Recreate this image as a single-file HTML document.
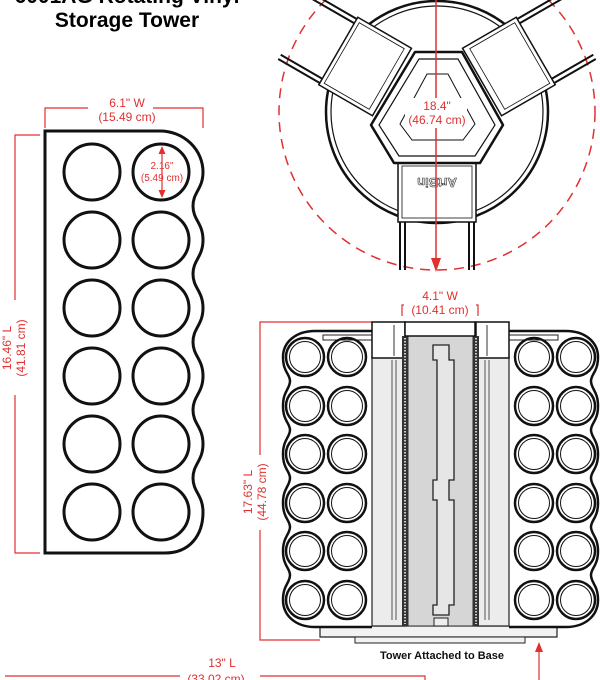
<!DOCTYPE html><html><head><meta charset="utf-8"><style>body{margin:0;background:#fff}svg{display:block}text{font-family:"Liberation Sans",sans-serif}</style></head><body>
<svg width="600" height="680" viewBox="0 0 600 680" xmlns="http://www.w3.org/2000/svg">
<defs>
<g id="lp" fill="none" stroke="#111" stroke-width="3.5">
</g>
</defs>
<!-- title -->
<text x="127" y="3" font-size="21" font-weight="bold" text-anchor="middle">6001AG Rotating Vinyl</text>
<text x="127" y="27" font-size="21" font-weight="bold" text-anchor="middle">Storage Tower</text>

<!-- left panel -->
<path d="M45,131 H160 A43,41 0 0 1 203,172 C203,189 193,192 193,206 C193,220 203,223 203,240 C203,257 193,260 193,274 C193,288 203,291 203,308 C203,325 193,328 193,342 C193,356 203,359 203,376 C203,393 193,396 193,410 C193,424 203,427 203,444 C203,461 193,464 193,478 C193,492 203,495 203,512 C203,535 190,553 165,553 H45 Z" fill="none" stroke="#111" stroke-width="3"/>
<g fill="none" stroke="#111" stroke-width="3">
<circle cx="92" cy="172" r="28"/><circle cx="161" cy="172" r="28"/>
<circle cx="92" cy="240" r="28"/><circle cx="161" cy="240" r="28"/>
<circle cx="92" cy="308" r="28"/><circle cx="161" cy="308" r="28"/>
<circle cx="92" cy="376" r="28"/><circle cx="161" cy="376" r="28"/>
<circle cx="92" cy="444" r="28"/><circle cx="161" cy="444" r="28"/>
<circle cx="92" cy="512" r="28"/><circle cx="161" cy="512" r="28"/>
</g>
<g stroke="#e03030" fill="none" stroke-width="1.2">
<path d="M45,128 V108 H88 M153,108 H203 V128"/>
<path d="M40,135 H15 V300 M15,395 V553 H40"/>
<path d="M162,148 V196"/>
<path d="M5,676 H180 M260,676 H425 V680"/>
<path d="M539,680 V650"/>
<path d="M372,322 H260 V455 M260,530 V640 H320"/>
<path d="M402,316 V305 H404 M476,305 H478 V316"/>
</g>
<g fill="#e03030">
<path d="M162,146 l-3.5,8 h7z M162,198 l-3.5,-8 h7z"/>
<path d="M539,642 l-4,10 h8z"/>
<path d="M436,272 l-5,-14 h10z"/>
</g>
<g fill="#e03030" font-size="12" text-anchor="middle">
<text x="127" y="107">6.1" W</text><text x="127" y="121">(15.49 cm)</text>
<text x="162" y="169" font-size="10">2.16"</text><text x="162" y="181" font-size="10">(5.49 cm)</text>
<text transform="translate(11,348) rotate(-90)">16.46" L</text>
<text transform="translate(25,348) rotate(-90)">(41.81 cm)</text>
<text x="222" y="667">13" L</text><text x="216" y="683">(33.02 cm)</text>
<text x="440" y="300">4.1" W</text><text x="440" y="314">(10.41 cm)</text>
<text transform="translate(252,492) rotate(-90)">17.63" L</text>
<text transform="translate(266,492) rotate(-90)">(44.78 cm)</text>
</g>

<!-- top view -->
<circle cx="437" cy="112" r="158" fill="none" stroke="#e03030" stroke-width="1.5" stroke-dasharray="10,7"/>
<circle cx="437" cy="112" r="111" fill="#fff" stroke="#111" stroke-width="2.5"/>
<circle cx="437" cy="112" r="106" fill="none" stroke="#111" stroke-width="1.2"/>
<g id="arm" fill="#fff" stroke="#111" stroke-width="1.5">
<path d="M400,220 V270 M405,220 V270 M469,220 V270 M474,220 V270" stroke-width="2"/>
<path d="M400,220 Q437,205 474,220" fill="none"/>
<rect x="398" y="160" width="78" height="62"/>
<rect x="402" y="166" width="70" height="52" fill="none" stroke-width="0.8"/>
</g>
<use href="#arm" transform="rotate(120 437 108)"/>
<use href="#arm" transform="rotate(240 437 108)"/>
<text x="437" y="186" font-size="13" font-weight="bold" fill="#eee" stroke="#333" stroke-width="0.6" text-anchor="middle" transform="rotate(180 437 182)">ArtBin</text>
<path d="M415,52 H462 L503,125 L480,163 H394 L371,125 Z" fill="#fff" stroke="#111" stroke-width="2.5" stroke-linejoin="round"/>
<path d="M419,59 H458 L495,125 L475,156 H399 L379,125 Z" fill="none" stroke="#111" stroke-width="1.2"/>
<path d="M427,74 H448 L475,124 L463,140 H412 L400,124 Z" fill="none" stroke="#111" stroke-width="1"/>
<path d="M436,0 V260" stroke="#e03030" stroke-width="1.5"/>
<rect x="405" y="98" width="62" height="30" fill="#fff"/>
<g fill="#e03030" font-size="12" text-anchor="middle"><text x="437" y="110">18.4"</text><text x="437" y="124">(46.74 cm)</text></g>

<!-- tower -->
<path d="M320,626 H557 V637 H320 Z" fill="#f2f2f2" stroke="#222" stroke-width="1.2"/>
<path d="M355,637 H525 V643 H355 Z" fill="#f2f2f2" stroke="#222" stroke-width="1"/>
<g id="tray">
<path d="M372,331 H315 C296,331 283,342 283,357 C283,372 290,374 290,381 C290,389 283,391 283,406 C283,421 290,423 290,430 C290,437 283,440 283,454 C283,469 290,471 290,478 C290,486 283,488 283,503 C283,518 290,520 290,527 C290,534 283,537 283,551 C283,566 290,568 290,575 C290,583 283,585 283,600 C283,615 295,627 315,627 H372" fill="#fff" stroke="#111" stroke-width="2.5"/>
<path d="M323,335 H372 V340 H323Z" fill="#fff" stroke="#222" stroke-width="1"/>
<g fill="none" stroke="#111">
<g stroke-width="2.5"><circle cx="305" cy="357" r="19"/><circle cx="347" cy="357" r="19"/><circle cx="305" cy="406" r="19"/><circle cx="347" cy="406" r="19"/><circle cx="305" cy="454" r="19"/><circle cx="347" cy="454" r="19"/><circle cx="305" cy="503" r="19"/><circle cx="347" cy="503" r="19"/><circle cx="305" cy="551" r="19"/><circle cx="347" cy="551" r="19"/><circle cx="305" cy="600" r="19"/><circle cx="347" cy="600" r="19"/></g>
<g stroke-width="1"><circle cx="305" cy="357" r="15.5"/><circle cx="347" cy="357" r="15.5"/><circle cx="305" cy="406" r="15.5"/><circle cx="347" cy="406" r="15.5"/><circle cx="305" cy="454" r="15.5"/><circle cx="347" cy="454" r="15.5"/><circle cx="305" cy="503" r="15.5"/><circle cx="347" cy="503" r="15.5"/><circle cx="305" cy="551" r="15.5"/><circle cx="347" cy="551" r="15.5"/><circle cx="305" cy="600" r="15.5"/><circle cx="347" cy="600" r="15.5"/></g>
</g>
<rect x="372" y="356" width="32" height="270" fill="#ececec" stroke="#222" stroke-width="1.2"/>
<path d="M392,360 V620 M396,360 V620" stroke="#555" stroke-width="1"/>
<rect x="372" y="322" width="33" height="36" fill="#fff" stroke="#111" stroke-width="1.5"/>
<path d="M394,325 V356" stroke="#333" stroke-width="1"/>
<rect x="402" y="336" width="6" height="290" fill="#333"/>
<path d="M405,338 V624" stroke="#fff" stroke-width="1.5" stroke-dasharray="1.5,1.5"/>
</g>
<use href="#tray" transform="translate(881,0) scale(-1,1)"/>
<rect x="408" y="336" width="65" height="290" fill="#d6d6d6" stroke="#333" stroke-width="1"/>
<rect x="405" y="322" width="70" height="14" fill="#fff" stroke="#111" stroke-width="1.5"/>
<path d="M433,345 H449 V360 H454 V480 H449 V500 H454 V605 H449 V615 H433 V605 H437 V500 H433 V480 H437 V360 H433 Z" fill="#e6e6e6" stroke="#222" stroke-width="1.3"/>
<rect x="434" y="618" width="14" height="8" fill="#eee" stroke="#222"/>
<text x="442" y="659" font-size="11" font-weight="bold" text-anchor="middle" fill="#111">Tower Attached to Base</text>
</svg>
</body></html>
